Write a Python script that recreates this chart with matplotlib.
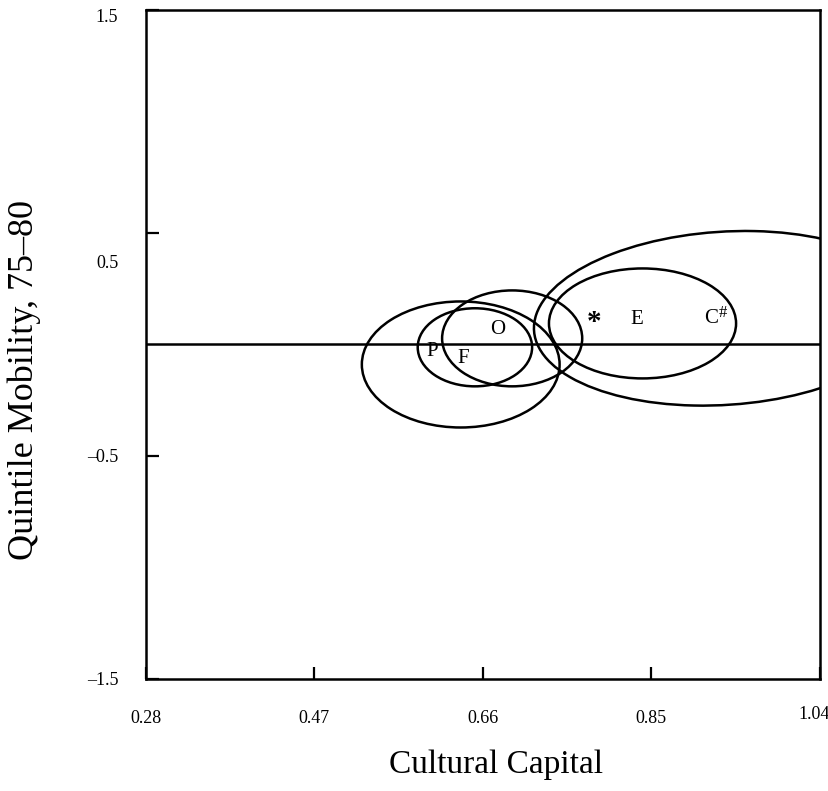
import matplotlib
matplotlib.use("Agg")
import matplotlib.pyplot as plt
from matplotlib.patches import Ellipse
from matplotlib.transforms import ScaledTranslation

plt.rcParams["font.family"] = ["Liberation Serif", "DejaVu Serif"]

# Confidence ellipses: centre, full width / height (data units), tilt (deg)
ell_cx = [0.635, 0.651, 0.693, 0.840, 0.932]
ell_cy = [-0.090, -0.013, 0.027, 0.094, 0.117]
ell_w = [0.223, 0.129, 0.158, 0.211, 0.425]
ell_h = [0.565, 0.350, 0.430, 0.493, 0.785]
ell_angle = [0, 0, 0, 0, -5]

# Group centroid labels
group_labels = ["P", "F", "O", "*", "E", "C"]
group_x = [0.6025, 0.6375, 0.677, 0.785, 0.834, 0.917]
group_y = [-0.031, -0.063, 0.067, 0.094, 0.112, 0.117]

x_ticks = [0.28, 0.47, 0.66, 0.85, 1.04]
y_ticks = [-1.5, -0.5, 0.5, 1.5]

fig = plt.figure(figsize=(8.29, 7.91), dpi=100)
ax = fig.add_axes([0.176, 0.1416, 0.813, 0.846])
ax.set_xlim(0.28, 1.04)
ax.set_ylim(-1.5, 1.5)

lw = 1.8
for cx, cy, w, h, ang in zip(ell_cx, ell_cy, ell_w, ell_h, ell_angle):
    ax.add_patch(Ellipse((cx, cy), w, h, angle=ang, fill=False,
                         edgecolor="black", linewidth=lw, zorder=3,
                         clip_on=True))

ax.axhline(0, color="black", linewidth=lw, zorder=2)

for lab, x, y in zip(group_labels, group_x, group_y):
    if lab == "*":
        ax.text(x, y + 0.005, lab, fontsize=21, ha="center", va="center",
                fontweight="bold", zorder=4)
    elif lab == "C":
        ax.text(x, y, lab, fontsize=15, ha="center", va="center", zorder=4)
        ax.annotate("#", (x, y), xytext=(8.5, 3.5), textcoords="offset points",
                    fontsize=12, ha="center", va="center", zorder=4)
    else:
        ax.text(x, y, lab, fontsize=15, ha="center", va="center", zorder=4)

ax.set_xticks(x_ticks)
ax.set_xticklabels([f"{v:.2f}" for v in x_ticks])
ax.set_yticks(y_ticks)
ax.set_yticklabels([f"{v:g}".replace("-", "\u2013") for v in y_ticks])
ax.tick_params(axis="both", direction="in", length=9, width=1.6,
               labelsize=13)
ax.tick_params(axis="x", pad=22)
ax.tick_params(axis="y", pad=20)

for sp in ax.spines.values():
    sp.set_linewidth(lw)

# per-label nudges of a few tick labels
for lbl, v in zip(ax.get_yticklabels(), y_ticks):
    if v == 0.5:
        lbl.set_transform(lbl.get_transform() +
                          ScaledTranslation(0, -0.29, fig.dpi_scale_trans))
    if v == 1.5:
        lbl.set_transform(lbl.get_transform() +
                          ScaledTranslation(0, -0.06, fig.dpi_scale_trans))
for lbl, v in zip(ax.get_xticklabels(), x_ticks):
    if v == 1.04:
        lbl.set_transform(lbl.get_transform() +
                          ScaledTranslation(-0.06, 0.04, fig.dpi_scale_trans))

ax.set_xlabel("Cultural Capital", fontsize=24)
ax.set_ylabel("Quintile Mobility, 75\u201380", fontsize=26)
ax.xaxis.set_label_coords(0.52, -0.105)
ax.yaxis.set_label_coords(-0.155, 0.447)

fig.savefig("out.png", dpi=100)
